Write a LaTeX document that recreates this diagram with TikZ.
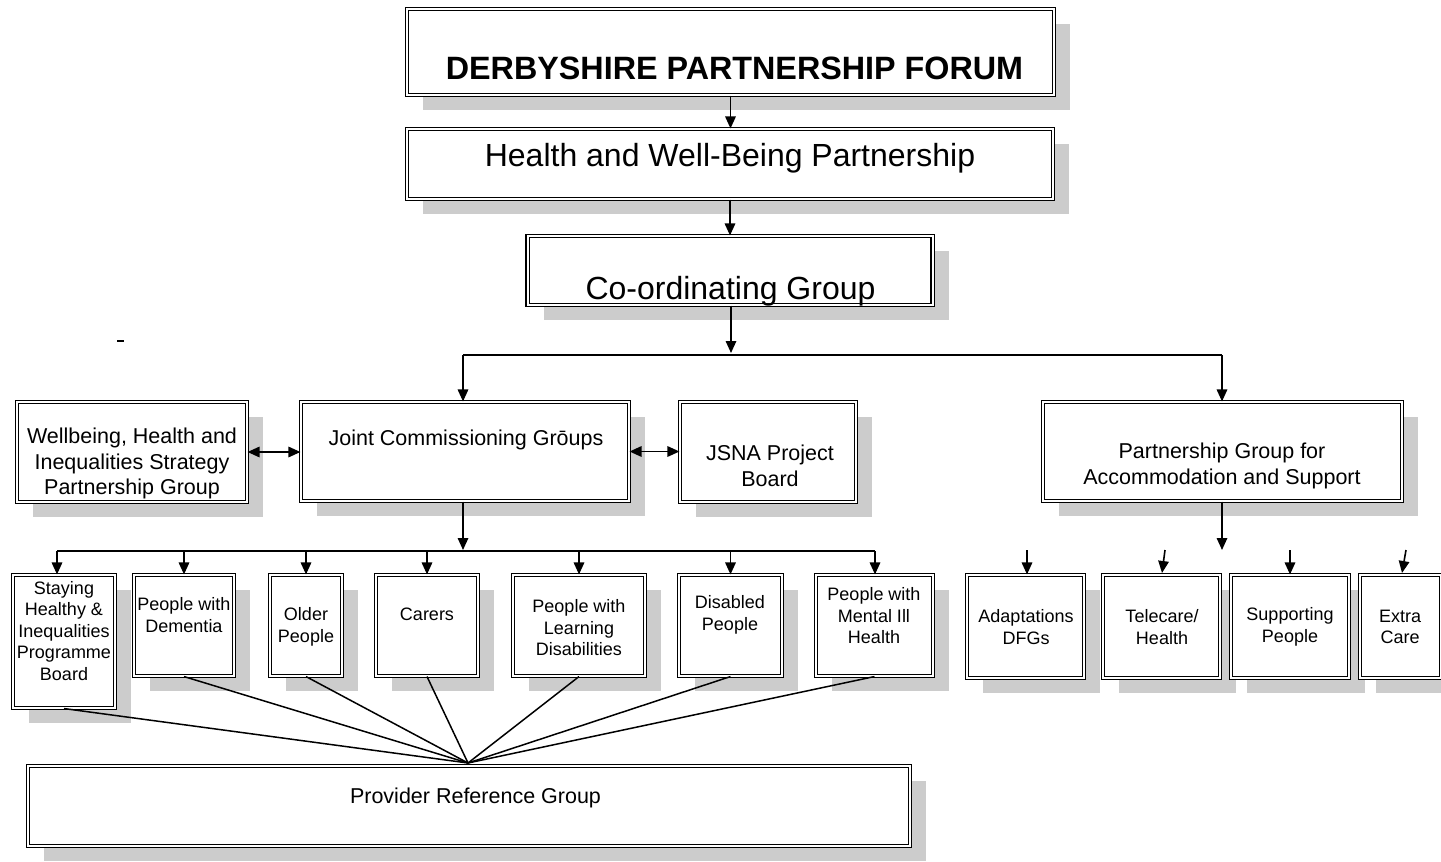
\documentclass[tikz,border=0pt]{standalone}
\usepackage{fontspec}
\setmainfont{Liberation Sans}
\usetikzlibrary{arrows.meta,shadows}
\definecolor{shadowgray}{gray}{0.8}
\begin{document}
\begin{tikzpicture}[x=1pt,y=-1pt,
  box/.style={draw=black, line width=1.1pt, double=white, double distance=2pt, fill=white, inner sep=0pt,
    drop shadow={shadow xshift=16pt, shadow yshift=-15pt, fill=shadowgray, opacity=1, draw=none}},
  small/.style={align=center, inner sep=0pt, font=\fontsize{18}{21.5}\selectfont},
  mid/.style={align=center, inner sep=0pt, font=\fontsize{21.5}{25.5}\selectfont},
  big/.style={align=center, inner sep=0pt, font=\fontsize{32}{38}\selectfont},
  conn/.style={line width=1.6pt, -{Triangle[length=12pt,width=10.5pt]}},
  dconn/.style={line width=1.6pt, {Triangle[length=12pt,width=10.5pt]}-{Triangle[length=12pt,width=10.5pt]}},
  plain/.style={line width=1.6pt}]
\useasboundingbox (0,0) rectangle (1441,862);
\clip (0,0) rectangle (1441,862);
\fill[white] (0,0) rectangle (1441,862);

% top chain
\node[box, minimum width=647pt, minimum height=86pt] (dpf) at (730.5,52) {};
\node[big, font=\fontsize{32.3}{38}\selectfont\bfseries] (dpft) at (734.5,68) {DERBYSHIRE PARTNERSHIP FORUM};
\node[box, minimum width=646pt, minimum height=70pt] (hwb) at (730,164) {};
\node[big] (hwbt) at (730,158) {Health and Well-Being Partnership};
\node[box, minimum width=405pt, minimum height=69pt] (cog) at (730,270.5) {};
\node[big] (cogt) at (730.5,291) {Co-ordinating Group};

% middle row
\node[box, minimum width=230pt, minimum height=100pt] (wel) at (132,452) {};
\node[mid] (welt) at (132,463.5) {Wellbeing, Health and\\Inequalities Strategy\\Partnership Group};
\node[box, minimum width=328pt, minimum height=99pt] (jcg) at (465,451.5) {};
\node[mid] (jcgt) at (466,440) {Joint Commissioning Gr\=oups};
\node[box, minimum width=176pt, minimum height=100pt] (jsna) at (768,452) {};
\node[mid] (jsnat) at (770,466) {JSNA Project\\Board};
\node[box, minimum width=359pt, minimum height=99pt] (pgas) at (1222.5,451.5) {};
\node[mid] (pgast) at (1222,466) {Partnership Group for\\Accommodation and Support};

% bottom left row
\node[box, minimum width=102pt, minimum height=133pt] (stay) at (64,641.5) {};
\node[small] (stayt) at (64,631) {Staying\\Healthy \&\\Inequalities\\Programme\\Board};
\node[box, minimum width=100pt, minimum height=101pt] (dem) at (184,625.5) {};
\node[small] (demt) at (184,615) {People with\\Dementia};
\node[box, minimum width=72pt, minimum height=101pt] (old) at (306,625.5) {};
\node[small] (oldt) at (306,627) {Older\\People};
\node[box, minimum width=102pt, minimum height=101pt] (car) at (427,625.5) {};
\node[small] (cart) at (427,614) {Carers};
\node[box, minimum width=132pt, minimum height=101pt] (pld) at (579,625.5) {};
\node[small] (pldt) at (579,628) {People with\\Learning\\Disabilities};
\node[box, minimum width=103pt, minimum height=101pt] (dis) at (730.5,625.5) {};
\node[small] (dist) at (730,615) {Disabled\\People};
\node[box, minimum width=117pt, minimum height=101pt] (men) at (874.5,625.5) {};
\node[small] (ment) at (874,616) {People with\\Mental Ill\\Health};

% bottom right row
\node[box, minimum width=117pt, minimum height=103pt] (ada) at (1025.5,626.5) {};
\node[small] (adat) at (1026,627) {Adaptations\\DFGs};
\node[box, minimum width=117pt, minimum height=103pt] (tel) at (1161.5,626.5) {};
\node[small] (telt) at (1162,627) {Telecare/\\Health};
\node[box, minimum width=118pt, minimum height=103pt] (sup) at (1290,626.5) {};
\node[small] (supt) at (1290,627) {Supporting\\People};
\node[box, minimum width=81pt, minimum height=103pt] (ext) at (1400.5,626.5) {};
\node[small] (extt) at (1400,627) {Extra\\Care};

% provider
\node[box, minimum width=882pt, minimum height=80pt] (prg) at (469,806) {};
\node[mid] (prgt) at (475.5,798) {Provider Reference Group};

% stray dash
\draw[line width=1.2pt] (117,341) -- (124,341);

% coordinates
\coordinate (j1) at (731,353);
\coordinate (hl) at (463,355);
\coordinate (hr) at (1222,355);
\coordinate (j2) at (463,550);
\coordinate (bl) at (57,551);
\coordinate (br) at (875,551);
\coordinate (j3) at (1222,550);
\coordinate (fan) at (468,763);
\coordinate (a1) at (1027,550);
\coordinate (t1) at (1165,550);
\coordinate (t2) at (1162,573);
\coordinate (s1) at (1290,550);
\coordinate (e1) at (1406,550);
\coordinate (e2) at (1402,573);

% connectors
\draw[conn] (dpf.south) -- (dpf.south |- hwb.north);
\draw[conn] (hwb.south) -- (hwb.south |- cog.north);
\draw[conn] (j1 |- cog.south) -- (j1);
\draw[plain] (hl) -- (hr);
\draw[conn] (hl) -- (hl |- jcg.north);
\draw[conn] (hr) -- (hr |- pgas.north);
\draw[dconn] (wel.east) -- (wel.east -| jcg.west);
\draw[dconn] (jcg.east) -- (jcg.east -| jsna.west);
\draw[conn] (j2 |- jcg.south) -- (j2);
\draw[plain] (bl) -- (br);
\draw[conn] (bl) -- (bl |- stay.north);
\draw[conn] (dem.north |- bl) -- (dem.north);
\draw[conn] (old.north |- bl) -- (old.north);
\draw[conn] (car.north |- bl) -- (car.north);
\draw[conn] (pld.north |- bl) -- (pld.north);
\draw[conn] (dis.north |- bl) -- (dis.north);
\draw[conn] (br) -- (br |- men.north);
\draw[conn] (j3 |- pgas.south) -- (j3);
\draw[conn] (a1) -- (a1 |- ada.north);
\draw[conn] (t1) -- (t2);
\draw[conn] (s1) -- (s1 |- sup.north);
\draw[conn] (e1) -- (e2);

% fan
\foreach \n in {stay,dem,old,car,pld,dis,men}
  \draw[line width=1.5pt] (\n.south) -- (fan);
\end{tikzpicture}
\end{document}
